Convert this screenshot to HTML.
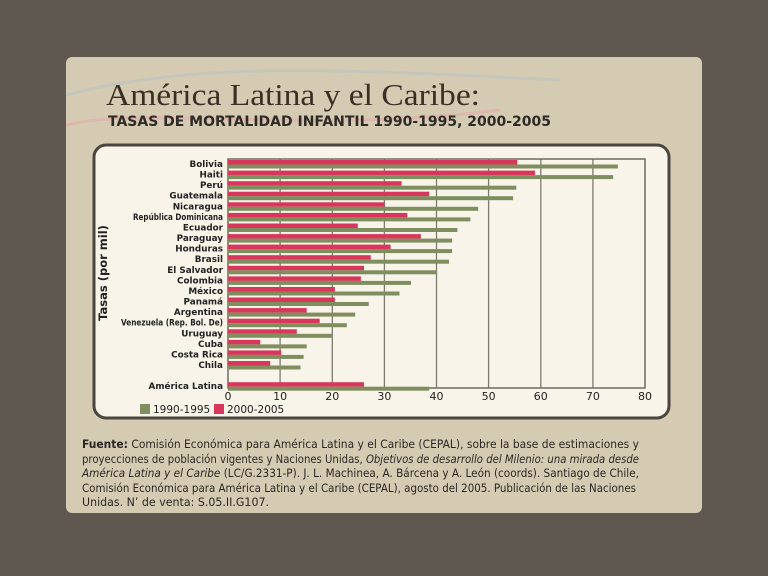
<!DOCTYPE html>
<html><head><meta charset="utf-8"><style>
html,body{margin:0;padding:0;background:#5e5850;}
svg{display:block}
</style></head><body>
<svg width="768" height="576" viewBox="0 0 768 576" xmlns="http://www.w3.org/2000/svg">
<rect x="0" y="0" width="768" height="576" fill="#5e5850"/>
<rect x="66" y="57" width="636" height="456" rx="6" fill="#d5cbb3"/>
<path d="M66 95 C200 60 350 70 560 80" stroke="#b9c2c0" stroke-width="3" fill="none" opacity="0.6"/>
<path d="M66 125 C150 105 300 135 500 110" stroke="#e7a4a8" stroke-width="3" fill="none" opacity="0.5"/>
<text x="106" y="105" font-family="Liberation Serif, serif" font-size="31" fill="#3a2f25" textLength="374" lengthAdjust="spacingAndGlyphs">América Latina y el Caribe:</text>
<text x="108" y="126" font-family="DejaVu Sans, sans-serif" font-weight="bold" font-size="14.5" fill="#2e2a25" textLength="443" lengthAdjust="spacingAndGlyphs">TASAS DE MORTALIDAD INFANTIL 1990-1995, 2000-2005</text>
<rect x="94" y="145" width="575" height="273" rx="12" fill="#f8f4ea" stroke="#4a463f" stroke-width="3"/>
<g stroke="#7d7a70" stroke-width="1.3">
<line x1="280.1" y1="159" x2="280.1" y2="388"/><line x1="332.3" y1="159" x2="332.3" y2="388"/>
<line x1="384.4" y1="159" x2="384.4" y2="388"/><line x1="436.5" y1="159" x2="436.5" y2="388"/>
<line x1="488.6" y1="159" x2="488.6" y2="388"/><line x1="540.8" y1="159" x2="540.8" y2="388"/>
<line x1="592.9" y1="159" x2="592.9" y2="388"/>
</g>
<rect x="228" y="159" width="417" height="229" fill="none" stroke="#6e6b60" stroke-width="1.5"/>
<g fill="#d8365a">
<rect x="228" y="160" width="289.3" height="4.5"/><rect x="228" y="170.6" width="307" height="4.5"/>
<rect x="228" y="181.2" width="173.6" height="4.5"/><rect x="228" y="191.7" width="201.2" height="4.5"/>
<rect x="228" y="202.3" width="156.4" height="4.5"/><rect x="228" y="212.9" width="179.3" height="4.5"/>
<rect x="228" y="223.5" width="129.8" height="4.5"/><rect x="228" y="234.1" width="192.9" height="4.5"/>
<rect x="228" y="244.6" width="162.6" height="4.5"/><rect x="228" y="255.2" width="142.8" height="4.5"/>
<rect x="228" y="265.8" width="136" height="4.5"/><rect x="228" y="276.4" width="132.9" height="4.5"/>
<rect x="228" y="287" width="106.9" height="4.5"/><rect x="228" y="297.5" width="106.9" height="4.5"/>
<rect x="228" y="308.1" width="78.7" height="4.5"/><rect x="228" y="318.7" width="91.7" height="4.5"/>
<rect x="228" y="329.3" width="68.8" height="4.5"/><rect x="228" y="339.9" width="32.3" height="4.5"/>
<rect x="228" y="350.4" width="53.2" height="4.5"/><rect x="228" y="361" width="42.2" height="4.5"/>
<rect x="228" y="382.2" width="136" height="4.5"/>
</g>
<g fill="#7f8e5f">
<rect x="228" y="164.5" width="389.9" height="4"/><rect x="228" y="175.1" width="385.2" height="4"/>
<rect x="228" y="185.7" width="288.3" height="4"/><rect x="228" y="196.2" width="285.1" height="4"/>
<rect x="228" y="206.8" width="250.2" height="4"/><rect x="228" y="217.4" width="242.4" height="4"/>
<rect x="228" y="228" width="229.4" height="4"/><rect x="228" y="238.6" width="224.1" height="4"/>
<rect x="228" y="249.1" width="224.1" height="4"/><rect x="228" y="259.7" width="221" height="4"/>
<rect x="228" y="270.3" width="208.5" height="4"/><rect x="228" y="280.9" width="183" height="4"/>
<rect x="228" y="291.5" width="171.5" height="4"/><rect x="228" y="302" width="140.7" height="4"/>
<rect x="228" y="312.6" width="127.2" height="4"/><rect x="228" y="323.2" width="118.8" height="4"/>
<rect x="228" y="333.8" width="103.7" height="4"/><rect x="228" y="344.4" width="78.7" height="4"/>
<rect x="228" y="354.9" width="75.6" height="4"/><rect x="228" y="365.5" width="72.5" height="4"/>
<rect x="228" y="386.7" width="201.2" height="4"/>
</g>
<g font-family="DejaVu Sans, sans-serif" font-size="8.8" font-weight="bold" fill="#222" text-anchor="end">
<text x="223" y="167">Bolivia</text><text x="223" y="177.6">Haiti</text>
<text x="223" y="188.2">Perú</text><text x="223" y="198.7">Guatemala</text>
<text x="223" y="209.3">Nicaragua</text><text x="223" y="219.9" textLength="90" lengthAdjust="spacingAndGlyphs">República Dominicana</text>
<text x="223" y="230.5">Ecuador</text><text x="223" y="241.1">Paraguay</text>
<text x="223" y="251.6">Honduras</text><text x="223" y="262.2">Brasil</text>
<text x="223" y="272.8">El Salvador</text><text x="223" y="283.4">Colombia</text>
<text x="223" y="294">México</text><text x="223" y="304.5">Panamá</text>
<text x="223" y="315.1">Argentina</text><text x="223" y="325.7" textLength="102" lengthAdjust="spacingAndGlyphs">Venezuela (Rep. Bol. De)</text>
<text x="223" y="336.3">Uruguay</text><text x="223" y="346.9">Cuba</text>
<text x="223" y="357.4">Costa Rica</text><text x="223" y="368">Chila</text>
<text x="223" y="389.2">América Latina</text>
</g>
<g font-family="DejaVu Sans, sans-serif" font-size="11" fill="#222" text-anchor="middle">
<text x="228" y="400">0</text><text x="280.1" y="400">10</text><text x="332.3" y="400">20</text>
<text x="384.4" y="400">30</text><text x="436.5" y="400">40</text><text x="488.6" y="400">50</text>
<text x="540.8" y="400">60</text><text x="592.9" y="400">70</text><text x="645" y="400">80</text>
</g>
<text transform="translate(107,273) rotate(-90)" font-family="DejaVu Sans, sans-serif" font-size="11.5" font-weight="bold" fill="#222" text-anchor="middle">Tasas (por mil)</text>
<rect x="140" y="404" width="10" height="10" fill="#7f8e5f"/>
<text x="153" y="413" font-family="DejaVu Sans, sans-serif" font-size="10.5" fill="#222">1990-1995</text>
<rect x="214" y="404" width="10" height="10" fill="#d8365a"/>
<text x="227" y="413" font-family="DejaVu Sans, sans-serif" font-size="10.5" fill="#222">2000-2005</text>
<g font-family="DejaVu Sans, sans-serif" font-size="11.5" fill="#2a2622">
<text x="82" y="448" textLength="557" lengthAdjust="spacingAndGlyphs"><tspan font-weight="bold">Fuente:</tspan> Comisión Económica para América Latina y el Caribe (CEPAL), sobre la base de estimaciones y</text>
<text x="82" y="463" textLength="557" lengthAdjust="spacingAndGlyphs">proyecciones de población vigentes y Naciones Unidas, <tspan font-style="italic">Objetivos de desarrollo del Milenio: una mirada desde</tspan></text>
<text x="82" y="477" textLength="557" lengthAdjust="spacingAndGlyphs"><tspan font-style="italic">América Latina y el Caribe</tspan> (LC/G.2331-P). J. L. Machinea, A. Bárcena y A. León (coords). Santiago de Chile,</text>
<text x="82" y="492" textLength="554" lengthAdjust="spacingAndGlyphs">Comisión Económica para América Latina y el Caribe (CEPAL), agosto del 2005. Publicación de las Naciones</text>
<text x="82" y="506" textLength="187" lengthAdjust="spacingAndGlyphs">Unidas. N’ de venta: S.05.II.G107.</text>
</g>
</svg>
</body></html>
